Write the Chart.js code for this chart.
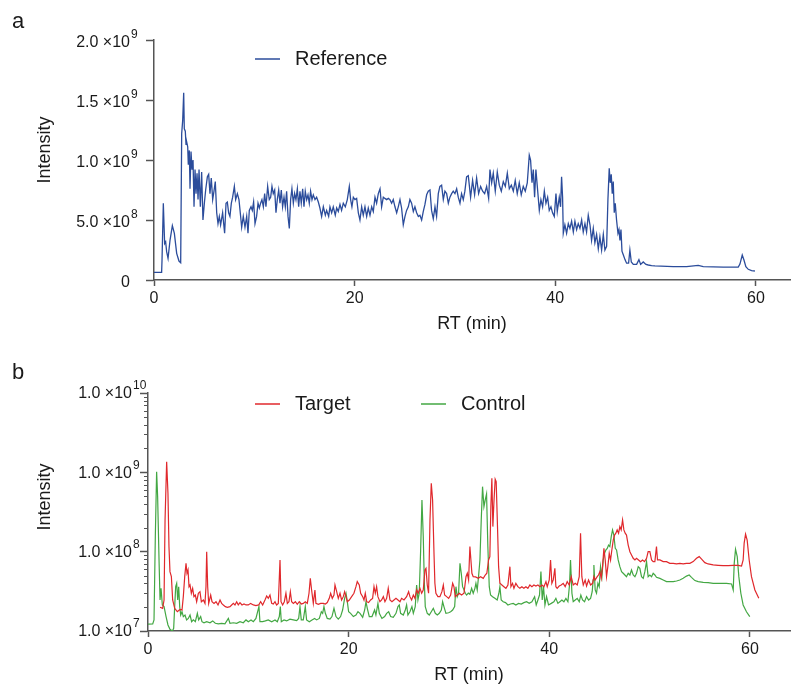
<!DOCTYPE html>
<html>
<head>
<meta charset="utf-8">
<script src="https://cdn.jsdelivr.net/npm/chart.js@4"></script>
<style>
  html, body { margin: 0; padding: 0; background: #fff; }
  body { width: 792px; height: 686px; position: relative; overflow: hidden; }
  canvas { position: absolute; left: 0; }
  #chartA { top: 0; }
  #chartB { top: 340px; }
</style>
</head>
<body>
<canvas id="chartA" width="792" height="340"></canvas>
<canvas id="chartB" width="792" height="346"></canvas>
<script>
// RT tick positions (min)
const rtTicks = [0, 20, 40, 60];

// panel a: intensity in units of 1e8
const refTicks = [0, 5, 10, 15, 20];
const refTickLabels = ['0', '5.0 \u00d710', '1.0 \u00d710', '1.5 \u00d710', '2.0 \u00d710'];
const refTickExps = ['', '8', '9', '9', '9'];

// panel b: intensity in units of 1e7 (log axis)
const logTicks = [1, 10, 100, 1000];
const logTickLabels = ['1.0 \u00d710', '1.0 \u00d710', '1.0 \u00d710', '1.0 \u00d710'];
const logTickExps = ['7', '8', '9', '10'];

// [RT, intensity / 1e8]
const referenceTrace = [
  [0,0.64],[0.76,0.64],[0.80,1.67],[0.93,6.39],[1.06,3.05],[1.16,3.19],[1.26,2.36],[1.40,1.80],[1.60,3.33],[1.83,4.53],
  [2.03,3.89],[2.26,2.22],[2.49,1.58],[2.66,1.44],[2.76,12.2],[2.86,13.3],[2.96,15.6],[3.02,12.6],[3.12,12.4],[3.19,11.3],
  [3.26,11.5],[3.36,11.1],[3.42,9.6],[3.52,10.8],[3.59,7.6],[3.69,10.7],[3.79,9.2],[3.89,10.0],[3.99,6.1],[4.09,9.2],
  [4.19,7.2],[4.29,8.9],[4.39,6.7],[4.49,9.2],[4.62,6.1],[4.75,9.0],[4.88,5.0],[5.02,6.4],[5.15,7.5],[5.32,8.6],
  [5.45,8.8],[5.58,7.2],[5.71,8.5],[5.85,6.7],[5.98,7.4],[6.11,8.2],[6.25,5.6],[6.38,4.7],[6.51,5.3],[6.64,4.6],
  [6.84,5.6],[7.04,3.9],[7.18,6.4],[7.31,6.5],[7.44,5.6],[7.57,5.3],[7.71,6.4],[7.84,6.9],[8.01,7.8],[8.14,6.7],
  [8.31,7.2],[8.47,6.7],[8.60,5.6],[8.74,4.4],[8.90,5.3],[9.07,4.4],[9.24,5.3],[9.37,3.9],[9.50,5.8],[9.67,6.1],
  [9.80,5.8],[9.93,6.5],[10.07,4.7],[10.23,5.3],[10.37,6.4],[10.50,6.0],[10.63,6.4],[10.76,6.7],[10.90,6.1],[11.03,7.2],
  [11.16,6.1],[11.33,7.8],[11.49,6.7],[11.63,6.9],[11.76,7.8],[11.89,7.2],[12.03,7.5],[12.16,5.6],[12.29,6.7],[12.43,7.5],
  [12.56,6.4],[12.69,7.5],[12.82,6.1],[12.96,6.9],[13.09,6.1],[13.22,7.4],[13.36,5.3],[13.49,4.3],[13.62,6.7],[13.75,7.6],
  [13.89,6.4],[14.02,7.2],[14.15,6.7],[14.29,7.6],[14.42,6.1],[14.55,7.4],[14.68,6.4],[14.82,7.6],[14.95,6.1],[15.08,7.4],
  [15.22,6.7],[15.35,7.1],[15.48,6.4],[15.61,7.4],[15.75,6.7],[15.88,7.1],[16.05,6.7],[16.21,6.9],[16.38,6.5],[16.54,6.0],
  [16.71,5.3],[16.88,6.1],[17.08,5.4],[17.21,5.8],[17.41,5.3],[17.54,6.1],[17.71,5.6],[17.87,6.1],[18.07,5.4],[18.21,6.0],
  [18.37,5.7],[18.54,6.3],[18.70,5.8],[18.87,6.4],[19.07,6.1],[19.27,6.7],[19.47,7.8],[19.60,6.7],[19.73,6.1],[19.87,6.9],
  [20.03,6.7],[20.20,6.8],[20.37,5.6],[20.53,5.0],[20.70,6.1],[20.86,5.4],[21.03,6.1],[21.20,5.3],[21.36,6.0],[21.53,5.4],
  [21.70,6.1],[21.86,5.7],[22.03,6.9],[22.19,6.4],[22.36,7.2],[22.53,7.6],[22.69,6.1],[22.86,6.9],[23.02,6.8],[23.19,6.7],
  [23.36,6.8],[23.52,6.7],[23.69,6.4],[23.85,6.7],[24.02,6.1],[24.19,5.6],[24.35,6.1],[24.52,6.7],[24.68,6.0],[24.85,4.6],
  [25.02,5.3],[25.18,5.8],[25.35,6.1],[25.51,6.7],[25.68,6.4],[25.85,5.7],[26.01,6.1],[26.18,5.6],[26.35,5.3],[26.51,5.4],
  [26.68,5.0],[26.84,5.7],[27.01,6.3],[27.18,7.1],[27.34,7.4],[27.51,7.5],[27.67,5.8],[27.84,5.1],[28.01,6.1],[28.17,5.3],
  [28.34,7.2],[28.50,7.8],[28.67,7.9],[28.84,6.7],[29.00,7.4],[29.17,7.2],[29.34,6.4],[29.50,6.9],[29.67,7.2],[29.83,7.4],
  [30.00,7.2],[30.17,7.6],[30.33,6.9],[30.50,6.4],[30.66,7.2],[30.83,6.7],[30.99,7.4],[31.16,8.6],[31.33,8.7],[31.56,6.9],
  [31.76,8.3],[31.96,7.1],[32.16,8.5],[32.36,7.2],[32.56,7.8],[32.76,7.4],[32.96,7.2],[33.16,7.8],[33.36,6.8],[33.49,9.2],
  [33.66,8.1],[33.82,8.9],[34.02,7.4],[34.22,9.0],[34.42,7.9],[34.62,7.4],[34.82,8.2],[35.02,7.8],[35.22,8.9],[35.42,7.6],
  [35.62,7.9],[35.82,7.4],[36.01,8.3],[36.21,7.2],[36.41,8.1],[36.61,7.1],[36.81,7.8],[37.01,7.4],[37.21,8.1],[37.41,10.4],
  [37.54,10.0],[37.68,8.1],[37.81,9.2],[37.94,6.9],[38.07,9.2],[38.24,7.5],[38.41,5.8],[38.57,6.7],[38.74,6.1],[38.91,7.4],
  [39.07,6.4],[39.24,6.9],[39.40,5.8],[39.57,6.1],[39.73,5.6],[39.90,5.3],[40.07,7.2],[40.20,5.7],[40.40,6.9],[40.53,6.1],
  [40.63,8.6],[40.73,6.9],[40.80,3.9],[40.96,4.6],[41.13,3.9],[41.30,4.7],[41.46,4.3],[41.63,4.9],[41.80,4.0],[41.96,4.9],
  [42.13,4.2],[42.29,4.7],[42.46,4.3],[42.63,5.0],[42.79,4.0],[42.96,4.7],[43.12,4.0],[43.29,5.4],[43.46,4.6],[43.62,3.3],
  [43.79,4.3],[43.95,3.1],[44.12,3.8],[44.29,2.6],[44.45,3.6],[44.62,2.5],[44.79,3.8],[44.95,2.5],[45.12,2.8],[45.25,6.7],
  [45.38,9.3],[45.48,8.1],[45.58,8.8],[45.68,7.2],[45.78,8.2],[45.88,5.6],[45.98,6.4],[46.11,5.0],[46.25,3.9],[46.35,4.2],
  [46.45,3.3],[46.55,4.2],[46.65,2.4],[46.78,2.1],[46.95,1.7],[47.11,1.4],[47.31,1.4],[47.44,2.5],[47.58,1.5],[47.78,1.3],
  [48.11,1.3],[48.34,1.7],[48.51,1.3],[48.77,1.5],[49.04,1.3],[49.27,1.25],[49.60,1.2],[49.93,1.17],[51.76,1.11],[53.09,1.11],
  [54.25,1.22],[54.75,1.11],[56.75,1.08],[58.24,1.08],[58.41,1.33],[58.64,2.08],[58.81,1.67],[59.00,1.11],[59.24,0.89],[59.57,0.78],
  [59.90,0.75]
];

// [RT, intensity / 1e7]
const targetTrace = [
  [1.20,1.99],[1.46,1.93],[1.60,2.46],[1.70,25.1],[1.86,136],[1.99,54.5],[2.09,11.6],[2.19,5.6],[2.33,4.84],[2.46,2.46],
  [2.66,1.93],[2.92,1.75],[3.19,1.87],[3.39,1.84],[3.52,2.71],[3.66,4.84],[3.79,7.13],[3.89,5.34],[3.99,5.88],[4.09,3.62],
  [4.19,3.80],[4.32,2.99],[4.45,3.45],[4.58,2.71],[4.72,2.84],[4.85,2.34],[5.02,2.99],[5.18,3.13],[5.32,2.34],[5.52,2.46],
  [5.68,2.23],[5.78,3.62],[5.85,10.0],[5.95,3.62],[6.05,2.23],[6.25,2.84],[6.38,2.34],[6.58,2.23],[6.78,2.34],[6.98,2.13],
  [7.18,2.46],[7.34,2.23],[7.51,2.13],[7.71,2.03],[7.91,1.99],[8.17,2.03],[8.34,2.13],[8.51,2.23],[8.67,2.13],[8.84,2.34],
  [9.00,2.13],[9.17,2.28],[9.37,2.13],[9.57,2.19],[9.77,2.13],[10.00,2.13],[10.23,2.23],[10.50,2.13],[10.76,2.09],[11.03,2.13],
  [11.23,2.34],[11.43,2.13],[11.66,2.46],[11.83,2.76],[11.99,2.58],[12.16,2.84],[12.33,2.23],[12.49,2.19],[12.66,2.34],[12.82,2.13],
  [12.99,2.23],[13.16,7.86],[13.26,2.34],[13.42,2.13],[13.59,2.34],[13.75,2.99],[13.89,2.23],[14.05,2.34],[14.19,3.13],[14.32,2.34],
  [14.49,2.23],[14.69,2.34],[14.88,2.17],[15.08,2.34],[15.28,2.19],[15.48,2.23],[15.68,2.34],[15.88,2.23],[16.05,2.99],[16.18,4.61],
  [16.31,3.29],[16.48,2.23],[16.64,3.29],[16.74,2.23],[16.98,2.17],[17.21,2.23],[17.48,2.23],[17.68,2.19],[17.87,2.28],[18.07,2.58],
  [18.21,2.99],[18.37,2.58],[18.54,2.84],[18.64,3.80],[18.81,3.13],[18.97,2.58],[19.14,2.99],[19.30,2.46],[19.47,2.71],[19.60,3.13],
  [19.74,2.71],[19.87,2.34],[20.07,2.46],[20.30,2.71],[20.53,2.99],[20.73,3.62],[20.86,4.19],[21.06,3.80],[21.20,2.99],[21.40,2.71],
  [21.53,2.46],[21.66,2.99],[21.80,2.34],[21.99,2.28],[22.19,2.46],[22.39,2.58],[22.53,3.62],[22.66,2.99],[22.79,3.62],[22.92,2.71],
  [23.12,2.34],[23.29,2.46],[23.46,2.71],[23.62,2.34],[23.79,2.58],[23.95,3.45],[24.12,2.46],[24.32,2.34],[24.52,2.46],[24.72,2.58],
  [24.92,2.46],[25.12,2.34],[25.28,2.58],[25.52,2.46],[25.78,2.71],[25.98,3.13],[26.11,2.71],[26.28,2.46],[26.45,2.84],[26.61,2.58],
  [26.78,3.29],[26.94,2.99],[27.11,3.45],[27.28,2.99],[27.44,3.29],[27.61,5.88],[27.71,6.17],[27.84,3.80],[27.97,2.99],[28.11,25.1],
  [28.24,72.8],[28.37,44.9],[28.51,9.53],[28.60,3.99],[28.70,2.99],[28.90,2.71],[29.10,2.71],[29.30,3.13],[29.44,3.80],[29.57,2.84],
  [29.77,2.71],[29.97,2.58],[30.17,2.84],[30.37,3.99],[30.50,3.62],[30.63,2.71],[30.83,2.84],[31.03,2.99],[31.26,2.84],[31.50,2.99],
  [31.70,4.84],[31.83,5.34],[31.96,4.40],[32.09,11.6],[32.19,7.86],[32.29,5.34],[32.42,4.84],[32.65,4.80],[32.92,4.61],[33.15,4.84],
  [33.42,4.61],[33.62,5.08],[33.78,5.34],[33.95,7.86],[34.08,8.66],[34.18,37.0],[34.28,84.2],[34.38,20.7],[34.48,40.7],[34.61,82.0],
  [34.71,76.4],[34.85,18.8],[34.95,6.47],[35.08,3.99],[35.28,3.80],[35.48,3.62],[35.68,3.45],[35.88,3.80],[36.08,6.47],[36.18,3.62],
  [36.34,3.99],[36.48,3.45],[36.67,3.99],[36.87,3.62],[37.07,3.45],[37.27,3.62],[37.47,3.45],[37.67,3.62],[37.87,3.45],[38.07,3.80],
  [38.27,3.62],[38.47,3.80],[38.67,3.69],[38.87,3.80],[39.07,3.62],[39.27,3.80],[39.47,3.62],[39.67,4.19],[39.80,3.62],[40.00,4.40],
  [40.13,7.86],[40.26,3.99],[40.40,4.40],[40.56,6.17],[40.66,3.62],[40.79,3.45],[40.99,3.69],[41.19,3.80],[41.39,3.99],[41.59,3.62],
  [41.79,4.19],[41.99,3.80],[42.19,4.84],[42.39,3.80],[42.59,3.99],[42.79,3.80],[42.99,4.84],[43.12,17.1],[43.25,4.84],[43.39,3.80],
  [43.58,4.40],[43.72,3.69],[43.92,4.40],[44.12,3.80],[44.32,3.99],[44.45,4.84],[44.58,4.40],[44.78,4.84],[44.91,5.08],[45.05,5.60],
  [45.18,4.61],[45.31,6.47],[45.45,11.0],[45.58,7.86],[45.71,4.84],[45.84,6.47],[45.98,9.53],[46.11,7.86],[46.24,10.5],[46.38,14.0],
  [46.51,16.2],[46.64,17.1],[46.77,18.8],[46.91,17.1],[47.04,20.7],[47.17,18.8],[47.31,25.1],[47.44,18.8],[47.57,17.1],[47.70,16.2],
  [47.87,12.1],[48.04,10.0],[48.20,9.09],[48.37,8.25],[48.54,7.86],[48.70,8.25],[48.90,7.86],[49.10,7.49],[49.30,7.86],[49.50,7.49],
  [49.70,8.25],[49.86,10.0],[50.03,10.0],[50.20,7.86],[50.36,7.49],[50.53,7.49],[50.69,11.6],[50.79,7.86],[51.03,7.86],[51.36,7.49],
  [51.69,7.49],[52.02,7.13],[52.36,7.13],[52.69,7.00],[53.02,7.13],[53.35,7.00],[53.68,7.13],[54.02,7.13],[54.35,7.49],[54.68,8.25],
  [54.95,8.66],[55.21,8.01],[55.51,7.27],[55.84,7.00],[56.34,6.80],[56.84,6.73],[57.34,6.67],[57.84,6.67],[58.34,6.73],[58.83,6.73],
  [59.17,6.60],[59.33,7.86],[59.43,12.8],[59.57,16.6],[59.73,14.0],[59.93,7.86],[60.16,4.84],[60.50,3.29],[60.89,2.58]
];

// [RT, intensity / 1e7]
const controlTrace = [
  [0,1.22],[0.47,1.23],[0.60,1.38],[0.73,15.5],[0.86,102],[0.96,49.4],[1.10,7.86],[1.20,2.46],[1.30,3.45],[1.43,2.13],
  [1.60,2.03],[1.80,1.52],[1.99,1.19],[2.19,1.05],[2.43,1.00],[2.56,1.08],[2.66,2.03],[2.76,3.62],[2.86,3.99],[2.96,2.46],
  [3.06,3.62],[3.16,2.03],[3.26,1.59],[3.39,1.75],[3.52,1.52],[3.69,1.59],[3.85,1.38],[4.02,1.44],[4.19,1.59],[4.35,1.31],
  [4.52,1.38],[4.72,1.31],[4.92,1.67],[5.05,1.38],[5.25,1.52],[5.38,1.31],[5.58,1.27],[5.85,1.31],[6.18,1.27],[6.45,1.34],
  [6.71,1.25],[7.01,1.23],[7.34,1.25],[7.67,1.23],[8.01,1.44],[8.17,1.25],[8.51,1.27],[8.84,1.25],[9.17,1.31],[9.50,1.27],
  [9.77,1.38],[10.00,1.31],[10.27,1.38],[10.50,1.31],[10.76,1.44],[10.93,1.75],[11.06,2.03],[11.16,1.31],[11.43,1.31],[11.70,1.34],
  [11.99,1.38],[12.33,1.31],[12.66,1.38],[12.89,1.31],[13.09,1.52],[13.19,2.03],[13.29,1.31],[13.56,1.38],[13.82,1.34],[14.15,1.41],
  [14.49,1.38],[14.82,1.35],[15.02,1.44],[15.15,2.03],[15.28,1.38],[15.48,1.38],[15.68,2.03],[15.81,1.38],[16.08,1.31],[16.35,1.38],
  [16.61,1.44],[16.81,1.38],[17.08,1.44],[17.28,1.75],[17.41,1.67],[17.54,2.03],[17.68,1.67],[17.87,1.44],[18.14,1.41],[18.34,1.52],
  [18.54,1.93],[18.74,1.52],[18.97,1.41],[19.20,1.52],[19.40,1.84],[19.60,2.58],[19.74,2.99],[19.87,2.34],[20.00,1.75],[20.20,1.67],
  [20.47,1.52],[20.73,1.59],[20.93,1.75],[21.13,1.67],[21.40,1.49],[21.60,1.84],[21.73,2.34],[21.86,1.93],[22.06,1.52],[22.33,1.52],
  [22.59,1.84],[22.72,1.59],[22.92,2.23],[23.06,1.67],[23.32,1.44],[23.59,1.52],[23.79,1.67],[23.99,1.75],[24.19,1.52],[24.45,1.49],
  [24.72,1.67],[24.92,2.03],[25.05,2.13],[25.18,1.67],[25.45,1.59],[25.65,1.84],[25.78,2.13],[25.91,1.59],[26.11,1.75],[26.31,2.03],
  [26.45,1.67],[26.64,2.03],[26.78,3.80],[26.91,2.46],[27.04,2.99],[27.18,10.5],[27.31,44.9],[27.44,15.5],[27.54,4.40],[27.64,2.03],
  [27.84,1.67],[28.04,1.59],[28.24,1.75],[28.44,1.93],[28.64,1.67],[28.84,1.59],[29.04,1.67],[29.24,1.84],[29.37,2.34],[29.50,2.03],
  [29.70,1.67],[29.97,1.70],[30.17,1.75],[30.37,1.84],[30.57,2.03],[30.70,3.62],[30.83,2.71],[30.96,2.99],[31.10,7.13],[31.23,5.34],
  [31.36,3.62],[31.50,3.30],[31.63,2.99],[31.76,2.84],[31.93,3.00],[32.09,2.90],[32.26,3.45],[32.42,2.99],[32.59,3.45],[32.69,3.99],
  [32.82,3.29],[32.95,4.84],[33.09,7.86],[33.22,25.1],[33.35,66.0],[33.49,37.0],[33.62,44.9],[33.75,53.4],[33.88,11.6],[34.02,3.62],
  [34.15,2.84],[34.35,2.71],[34.58,2.58],[34.81,2.46],[34.98,2.99],[35.08,3.62],[35.21,2.46],[35.41,2.34],[35.64,2.28],[35.88,2.13],
  [36.14,2.19],[36.41,2.23],[36.67,2.13],[36.94,2.23],[37.21,2.19],[37.47,2.28],[37.74,2.34],[38.00,2.23],[38.27,2.34],[38.54,2.71],
  [38.70,2.13],[38.87,2.46],[39.03,2.84],[39.17,5.60],[39.30,2.46],[39.43,3.62],[39.57,2.13],[39.73,2.71],[39.93,2.13],[40.20,2.23],
  [40.46,2.34],[40.66,2.58],[40.86,2.23],[41.06,2.34],[41.26,2.46],[41.46,2.34],[41.66,2.58],[41.86,2.34],[42.02,3.80],[42.12,7.86],
  [42.26,2.99],[42.39,2.34],[42.59,2.46],[42.79,2.58],[42.99,2.34],[43.15,2.84],[43.32,2.46],[43.52,2.34],[43.72,2.71],[43.92,2.46],
  [44.12,2.58],[44.28,3.13],[44.38,4.40],[44.45,6.80],[44.58,3.29],[44.71,2.99],[44.85,3.99],[44.98,3.62],[45.11,6.47],[45.25,4.84],
  [45.38,7.86],[45.51,9.53],[45.64,10.5],[45.78,11.0],[45.91,12.1],[46.04,11.6],[46.18,15.5],[46.31,18.8],[46.44,16.2],[46.58,11.0],
  [46.71,10.5],[46.87,7.86],[47.04,6.47],[47.21,5.60],[47.37,5.34],[47.54,5.08],[47.70,4.84],[47.87,5.34],[48.04,5.08],[48.20,5.88],
  [48.37,5.08],[48.54,4.84],[48.70,5.34],[48.87,6.47],[49.03,6.17],[49.20,4.84],[49.37,4.61],[49.53,5.60],[49.70,7.49],[49.86,4.84],
  [50.03,5.08],[50.20,4.84],[50.36,5.34],[50.53,5.08],[50.69,4.75],[51.03,4.61],[51.36,4.40],[51.69,4.19],[52.02,4.19],[52.36,4.19],
  [52.69,4.27],[53.02,4.40],[53.35,4.61],[53.68,4.92],[53.95,5.08],[54.18,4.75],[54.52,4.32],[54.85,4.19],[55.35,4.11],[55.84,4.07],
  [56.34,3.99],[57.01,3.99],[57.67,3.99],[58.17,3.92],[58.34,3.29],[58.44,7.13],[58.57,10.7],[58.74,8.66],[58.90,4.84],[59.10,2.99],
  [59.33,2.13],[59.66,1.75],[59.99,1.52]
];

const axisColor = '#555555';
const textColor = '#1a1a1a';
const fontFamily = '"Liberation Sans", Arial, Helvetica, sans-serif';

// panel letter, rotated y title, in-plot legend, tick exponents, minor log ticks
const panelDecor = {
  id: 'panelDecor',
  afterDraw(chart, args, opts) {
    const ctx = chart.ctx;
    const ys = chart.scales.y;
    const left = chart.chartArea.left;
    ctx.save();
    ctx.fillStyle = textColor;
    ctx.font = '22px ' + fontFamily;
    ctx.textBaseline = 'alphabetic';
    ctx.textAlign = 'left';
    ctx.fillText(opts.letter, opts.letterPos[0], opts.letterPos[1]);

    ctx.save();
    ctx.font = '18px ' + fontFamily;
    ctx.translate(opts.yTitlePos[0], opts.yTitlePos[1]);
    ctx.rotate(-Math.PI / 2);
    ctx.textAlign = 'center';
    ctx.textBaseline = 'middle';
    ctx.fillText(opts.yTitle, 0, 0);
    ctx.restore();

    // superscript exponents after the tick labels
    const yo = ys.options;
    const labelRight = left - yo.grid.tickLength - yo.ticks.padding;
    ctx.font = '12px ' + fontFamily;
    ctx.textAlign = 'left';
    ctx.textBaseline = 'middle';
    ys.ticks.forEach(t => {
      const i = opts.tickValues.indexOf(t.value);
      if (i < 0 || !opts.tickExps[i]) return;
      const py = ys.getPixelForValue(t.value) + (yo.ticks.labelOffset || 0) - 8;
      ctx.fillText(opts.tickExps[i], labelRight + 1, py);
    });

    ctx.font = '20px ' + fontFamily;
    chart.data.datasets.forEach((ds, i) => {
      const x = opts.legendX[i];
      const y = opts.legendY;
      ctx.strokeStyle = ds.borderColor;
      ctx.lineWidth = 1.5;
      ctx.beginPath();
      ctx.moveTo(x, y);
      ctx.lineTo(x + 25, y);
      ctx.stroke();
      ctx.fillStyle = textColor;
      ctx.fillText(ds.label, x + 40, y);
    });

    if (opts.minorTicks) {
      ctx.strokeStyle = axisColor;
      ctx.lineWidth = 1;
      for (let d = 0; d < logTicks.length - 1; d++) {
        for (let k = 2; k < 10; k++) {
          const py = Math.round(ys.getPixelForValue(logTicks[d] * k)) + 0.5;
          ctx.beginPath();
          ctx.moveTo(left - 4, py);
          ctx.lineTo(left, py);
          ctx.stroke();
        }
      }
    }
    ctx.restore();
  }
};

function xAxis(maxRT, height, titlePad) {
  return {
    type: 'linear',
    min: 0,
    max: maxRT,
    afterBuildTicks: s => { s.ticks = rtTicks.map(v => ({ value: v })); },
    afterFit: s => { s.height = height; },
    grid: { display: true, drawOnChartArea: false, drawTicks: true, tickLength: 6, tickColor: axisColor, tickWidth: 1.5 },
    border: { display: true, color: axisColor, width: 1.5 },
    ticks: { color: textColor, font: { family: fontFamily, size: 16 }, padding: 3, maxRotation: 0 },
    title: { display: true, text: 'RT (min)', color: textColor, font: { family: fontFamily, size: 18 }, padding: { top: 0, bottom: titlePad } }
  };
}

new Chart(document.getElementById('chartA'), {
  type: 'line',
  data: {
    datasets: [{
      label: 'Reference',
      data: referenceTrace,
      borderColor: '#2b4c9b',
      borderWidth: 1.3,
      pointRadius: 0,
      tension: 0,
      fill: false
    }]
  },
  options: {
    responsive: false,
    animation: false,
    layout: { padding: { top: 40, right: 2, left: 0, bottom: 0 } },
    plugins: {
      legend: { display: false },
      tooltip: { enabled: false },
      panelDecor: {
        letter: 'a', letterPos: [12, 28], yTitle: 'Intensity', yTitlePos: [45, 150],
        legendX: [255], legendY: 59, tickValues: refTicks, tickExps: refTickExps
      }
    },
    scales: {
      x: xAxis(63.4, 60, 5),
      y: {
        type: 'linear',
        min: 0,
        max: 20,
        afterBuildTicks: s => { s.ticks = refTicks.map(v => ({ value: v })); },
        afterFit: s => { s.width = 154; },
        grid: { display: true, drawOnChartArea: false, drawTicks: true, tickLength: 8, tickColor: axisColor, tickWidth: 1.5 },
        border: { display: true, color: axisColor, width: 1.5 },
        ticks: {
          color: textColor,
          font: { family: fontFamily, size: 16 },
          padding: 16,
          labelOffset: 3,
          callback: v => refTickLabels[refTicks.indexOf(v)]
        }
      }
    }
  },
  plugins: [panelDecor]
});

new Chart(document.getElementById('chartB'), {
  type: 'line',
  data: {
    datasets: [{
      label: 'Target',
      data: targetTrace,
      borderColor: '#e0282c',
      borderWidth: 1.2,
      pointRadius: 0,
      tension: 0,
      fill: false
    }, {
      label: 'Control',
      data: controlTrace,
      borderColor: '#43a743',
      borderWidth: 1.2,
      pointRadius: 0,
      tension: 0,
      fill: false
    }]
  },
  options: {
    responsive: false,
    animation: false,
    layout: { padding: { top: 53, right: 2, left: 0, bottom: 0 } },
    plugins: {
      legend: { display: false },
      tooltip: { enabled: false },
      panelDecor: {
        letter: 'b', letterPos: [12, 39], yTitle: 'Intensity', yTitlePos: [45, 157],
        legendX: [255, 421], legendY: 64, minorTicks: true, tickValues: logTicks, tickExps: logTickExps
      }
    },
    scales: {
      x: xAxis(64, 55, 0),
      y: {
        type: 'logarithmic',
        min: 1,
        max: 1000,
        afterBuildTicks: s => { s.ticks = logTicks.map(v => ({ value: v })); },
        afterFit: s => { s.width = 148; },
        grid: { display: true, drawOnChartArea: false, drawTicks: true, tickLength: 8, tickColor: axisColor, tickWidth: 1.5 },
        border: { display: true, color: axisColor, width: 1.5 },
        ticks: {
          color: textColor,
          font: { family: fontFamily, size: 16 },
          padding: 8,
          labelOffset: 1,
          callback: v => logTickLabels[logTicks.indexOf(v)]
        }
      }
    }
  },
  plugins: [panelDecor]
});
</script>
</body>
</html>
